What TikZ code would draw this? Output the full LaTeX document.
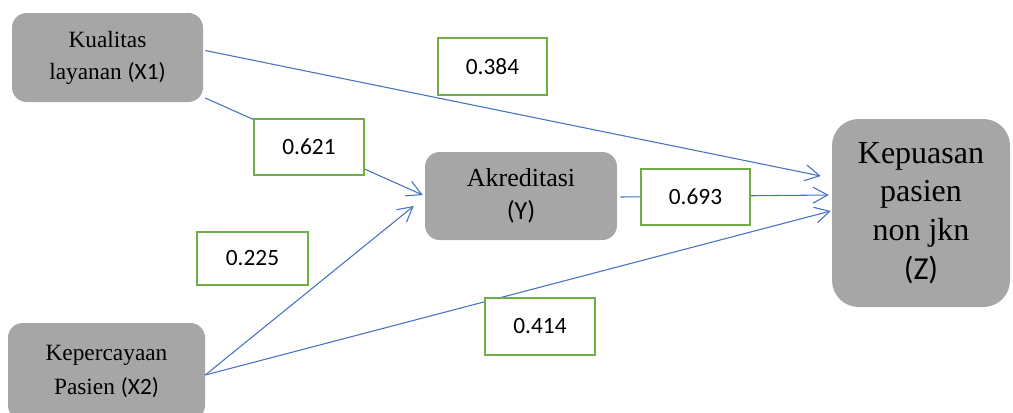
\documentclass[tikz,border=0pt]{standalone}
\usepackage{fontspec}
\setmainfont{Liberation Serif}
\newfontfamily\carl{Carlito}
\usetikzlibrary{arrows.meta,calc}
\definecolor{boxgray}{HTML}{A6A6A6}
\definecolor{cblue}{HTML}{4472C4}
\definecolor{cgreen}{HTML}{70AD47}
\begin{document}
\begin{tikzpicture}[x=0.75pt,y=-0.75pt,
  var/.style={fill=boxgray, rounded corners=11pt, inner sep=0pt, align=center},
  coef/.style={draw=cgreen, line width=2pt, fill=white, inner sep=0pt,
    font=\carl\fontsize{17.5}{20}\selectfont},
  link/.style={draw=cblue, line width=0.8pt,
    -{Straight Barb[length=11pt,width=12pt,line width=0.8pt]}}]
\useasboundingbox (0,0) rectangle (1013,412);
\clip (0,0) rectangle (1013,412);
% variable boxes
\node[var, minimum width=191*0.75pt, minimum height=89*0.75pt,
  font=\fontsize{17.5}{24}\selectfont] (x1) at (107.5,57.5)
  {Kualitas\\layanan {\carl(X1)}};
\node[var, minimum width=197*0.75pt, minimum height=97*0.75pt,
  font=\fontsize{17.5}{26}\selectfont] (x2) at (106.5,371.5)
  {Kepercayaan\\Pasien {\carl(X2)}};
\node[var, minimum width=192*0.75pt, minimum height=88*0.75pt,
  font=\fontsize{19.5}{25}\selectfont] (y) at (521,196)
  {Akreditasi\\{\carl(Y)}};
\node[var, rounded corners=20pt, minimum width=178*0.75pt, minimum height=188*0.75pt,
  font=\fontsize{24}{29}\selectfont] (z) at (921,213)
  {Kepuasan\\pasien\\non jkn\\{\carl(Z)}};
% connectors
\draw[link] ($(x1.east)+(2,-7)$) -- ($(z.west)+(-11,-37)$);
\draw[link] ($(x1.east)+(2,40.5)$) -- ($(y.west)+(-2,-1)$);
\draw[link] ($(x2.east)+(0,3.5)$) -- ($(y.west)+(-11,10)$);
\draw[link] ($(x2.east)+(0,3.5)$) -- ($(z.west)+(-1,-2)$);
\draw[link] ($(y.east)+(3,1)$) -- ($(z.west)+(-3,-18)$);
% coefficient labels
\node[coef, minimum width=109*0.75pt, minimum height=57*0.75pt] (c384) at (492.5,66.5) {0.384};
\node[coef, minimum width=110*0.75pt, minimum height=56*0.75pt] (c621) at (309,147) {0.621};
\node[coef, minimum width=111*0.75pt, minimum height=53*0.75pt] (c225) at (252.5,258.5) {0.225};
\node[coef, minimum width=109*0.75pt, minimum height=56*0.75pt] (c693) at (695.5,197) {0.693};
\node[coef, minimum width=110*0.75pt, minimum height=57*0.75pt] (c414) at (540,326.5) {0.414};
\end{tikzpicture}
\end{document}
